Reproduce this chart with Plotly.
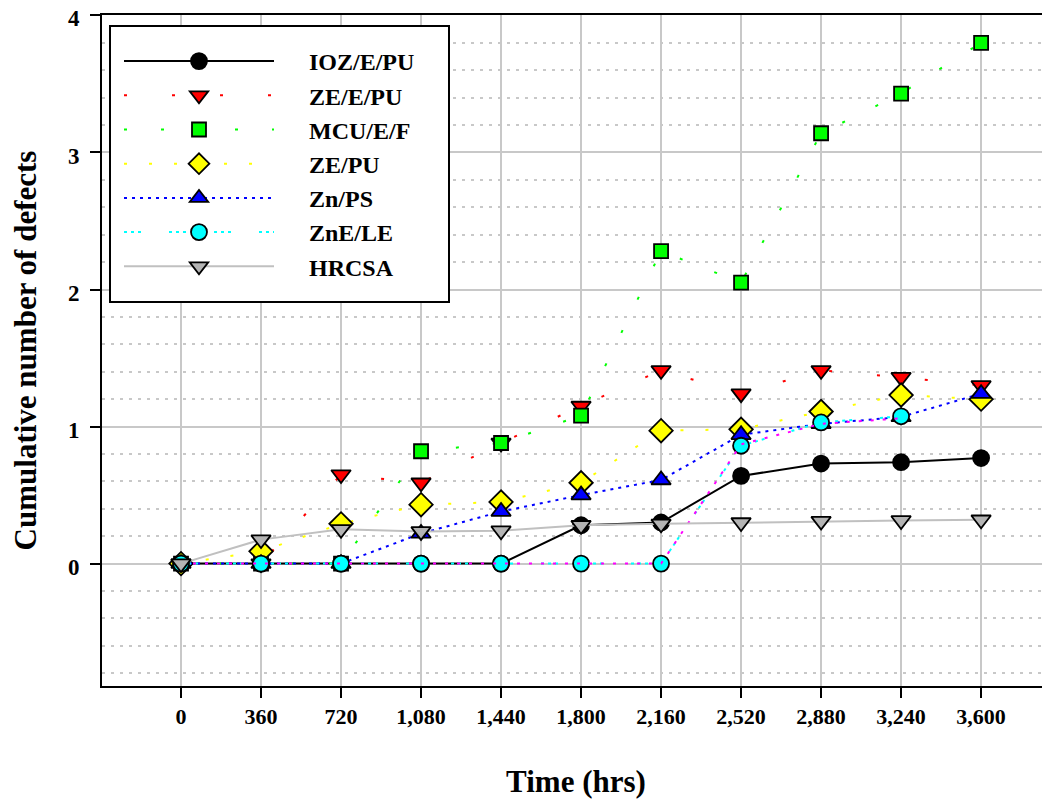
import plotly.graph_objects as go

hours = [0, 360, 720, 1080, 1440, 1800, 2160, 2520, 2880, 3240, 3600]

ioz_e_pu = [0, 0, 0, 0, 0, 0.28, 0.30, 0.64, 0.73, 0.74, 0.77]
ze_e_pu = [0, 0, 0.65, 0.59, 0.88, 1.15, 1.41, 1.24, 1.41, 1.36, 1.30]
mcu_e_f = [0, 0, 0, 0.82, 0.88, 1.08, 2.28, 2.05, 3.14, 3.43, 3.80]
ze_pu = [0, 0.09, 0.29, 0.43, 0.45, 0.59, 0.97, 0.98, 1.11, 1.23, 1.20]
zn_ps = [0, 0, 0, 0.22, 0.38, 0.50, 0.61, 0.94, 1.02, 1.07, 1.24]
zne_le = [0, 0, 0, 0, 0, 0, 0, 0.86, 1.03, 1.075, None]
extra_magenta = [0, 0, 0, 0, 0, 0, 0, 0.87, 1.02, 1.06, None]
hrcsa = [0, 0.175, 0.25, 0.235, 0.24, 0.28, 0.29, 0.30, 0.31, 0.315, 0.32]

FONT = "Liberation Serif"
PAD = "\u00a0" * 5

fig = go.Figure()

series = [
    ("IOZ/E/PU", ioz_e_pu, "#000000", "solid", "circle", "#000000", 16),
    ("ZE/E/PU", ze_e_pu, "#ff0000", "3px,45px", "triangle-down", "#ff0000", 17),
    ("MCU/E/F", mcu_e_f, "#00ff00", "3px,34px", "square", "#00ff00", 14),
    ("ZE/PU", ze_pu, "#ffff00", "3px,22px", "diamond", "#ffff00", 18),
    ("Zn/PS", zn_ps, "#0000ff", "3px,5px", "triangle-up", "#0000ff", 17),
    ("ZnE/LE", zne_le, "#00ffff", "3px,4px,3px,4px,3px,28px", "circle", "#00ffff", 16),
]

for i, (name, vals, col, dash, sym, fill, size) in enumerate(series):
    fig.add_trace(go.Scatter(
        x=hours, y=vals, name=PAD + name,
        mode="lines+markers",
        line=dict(color=col, width=2, dash=dash),
        marker=dict(symbol=sym, size=size, color=fill,
                    line=dict(color="#000000", width=1.8)),
        connectgaps=False,
    ))
    if name == "ZnE/LE":
        fig.add_trace(go.Scatter(
            x=hours, y=extra_magenta, mode="lines", showlegend=False,
            line=dict(color="#ff00ff", width=2, dash="3px,9px"),
            hoverinfo="skip",
        ))

fig.add_trace(go.Scatter(
    x=hours, y=hrcsa, name=PAD + "HRCSA", mode="lines+markers",
    line=dict(color="#c0c0c0", width=2),
    marker=dict(symbol="triangle-down", size=17, color="#b4b4b4",
                line=dict(color="#000000", width=1.8)),
))

# legend frame (page px: x 110-449, y 26-302; plot area x 102-1050, y 15-686)
PLOT_L, PLOT_W, PLOT_B, PLOT_H = 102, 948, 686, 671
fig.add_shape(
    type="rect", xref="paper", yref="paper", layer="above",
    x0=(110 - PLOT_L) / PLOT_W, x1=(449 - PLOT_L) / PLOT_W,
    y0=(PLOT_B - 302) / PLOT_H, y1=(PLOT_B - 26) / PLOT_H,
    line=dict(color="black", width=2), fillcolor="white",
)

fig.update_layout(
    width=1050, height=800,
    margin=dict(l=94, r=8, t=7, b=122, autoexpand=False),
    plot_bgcolor="white", paper_bgcolor="white",
    font=dict(family=FONT, color="black"),
    showlegend=True,
    legend=dict(
        x=(119 - PLOT_L) / PLOT_W, y=(PLOT_B - 39) / PLOT_H,
        xanchor="left", yanchor="top",
        bgcolor="white", borderwidth=0,
        font=dict(family=FONT, size=24, weight="bold"),
        itemwidth=150, tracegroupgap=0,
    ),
)

fig.update_xaxes(
    range=[-355.5, 3910],
    tickvals=hours, tickformat=",d",
    ticks="outside", ticklen=10, tickwidth=2, tickcolor="black",
    tickfont=dict(family=FONT, size=22, weight="bold"),
    ticklabelstandoff=0, ticklabeloverflow="allow",
    showline=True, linecolor="black", linewidth=2, mirror=True,
    showgrid=True, gridcolor="#c8c8c8", gridwidth=2,
    zeroline=False, automargin=False,
    title=dict(text="Time (hrs)", font=dict(family=FONT, size=31, weight="bold"), standoff=42),
)

fig.update_yaxes(
    range=[-0.893, 4.003],
    tickvals=[0, 1, 2, 3, 4],
    ticks="outside", ticklen=10, tickwidth=2, tickcolor="black",
    tickfont=dict(family=FONT, size=23, weight="bold"),
    ticklabelstandoff=6, ticklabeloverflow="allow", ticklabelshift=3,
    showline=True, linecolor="black", linewidth=2,
    showgrid=True, gridcolor="#c8c8c8", gridwidth=2,
    zeroline=False, automargin=False,
    minor=dict(dtick=0.2, tick0=0, showgrid=True, gridcolor="#c8c8c8",
               gridwidth=2, griddash="3px,6px", ticks=""),
    title=dict(text="Cumulative number of defects", font=dict(family=FONT, size=31, weight="bold"), standoff=24),
)

fig.write_html("out.html")
